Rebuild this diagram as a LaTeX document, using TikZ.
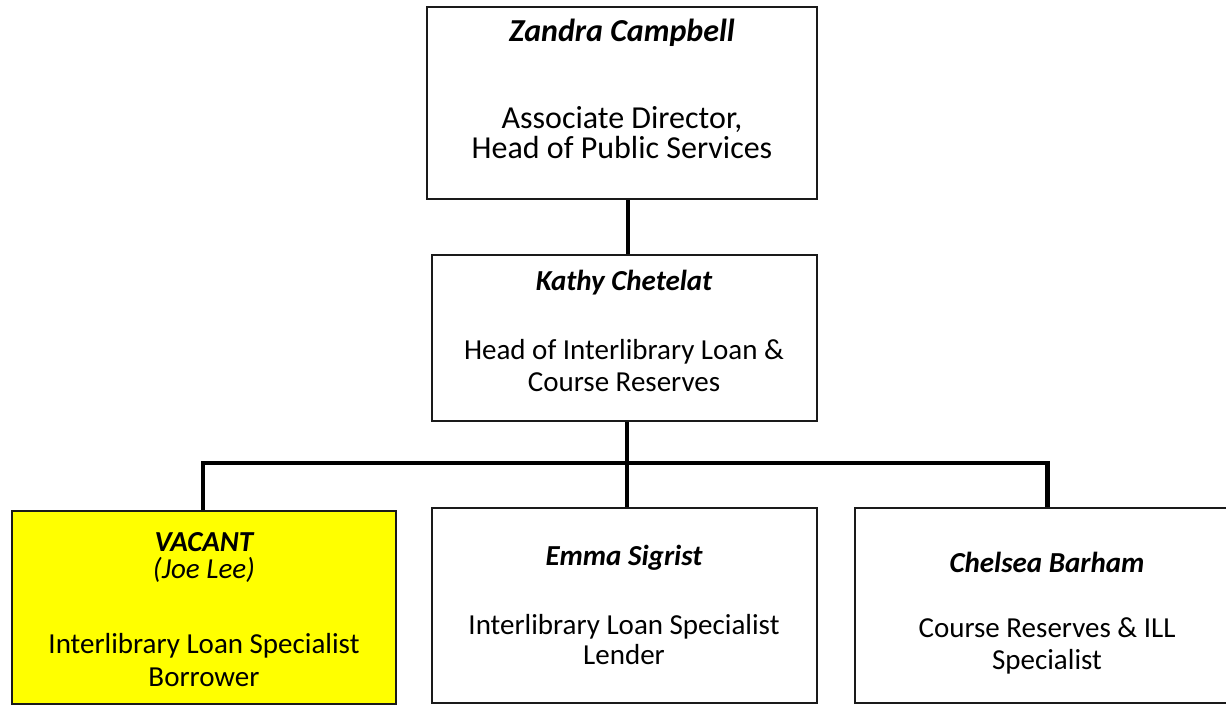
\documentclass[tikz,border=0pt]{standalone}
\usepackage{fontspec}
\setmainfont{Carlito}
\definecolor{vacant}{HTML}{FFFF00}
\definecolor{edge}{HTML}{1A1A1A}
\begin{document}
\begin{tikzpicture}[x=1pt,y=-1pt,
  box/.style={draw=edge,line width=1.6pt,rectangle,inner sep=0pt,minimum width=#1},
  box/.default=385pt,
  link/.style={line width=4.5pt,black},
  nm/.style={font=\fontsize{29}{31}\selectfont\bfseries\itshape,inner sep=0pt},
  bd/.style={font=\fontsize{29}{#1}\selectfont,align=center,inner sep=0pt},
  bd/.default=31pt]
\useasboundingbox (0,0) rectangle (1226,705);
\clip (0,0) rectangle (1226,705);
\fill[white] (0,0) rectangle (1226,705);
% boxes
\node[box=390pt,minimum height=192pt] (top) at (622,103) {};
\node[box,minimum height=166pt] (mid) at (624.5,338) {};
\node[box=384pt,minimum height=193pt,fill=vacant] (lft) at (204,607.5) {};
\node[box,minimum height=195pt] (cen) at (624.5,605.5) {};
\node[box,minimum height=195pt] (rgt) at (1047.5,605.5) {};
% connectors
\coordinate (bar) at (627,463);
\draw[link] ([xshift=6pt]top.south) -- ([xshift=3.5pt]mid.north);
\draw[link] ([xshift=2.5pt]mid.south) -- ([xshift=2.5pt]cen.north);
\draw[link] ([xshift=-1pt]lft.north) |- (bar) -| (rgt.north);
% texts
\node[nm,font=\fontsize{32}{34}\selectfont\bfseries\itshape] (topn) at (622,33) {Zandra Campbell};
\node[bd=30pt,font=\fontsize{32}{30}\selectfont] (topb) at (622,133) {Associate Director,\\Head of Public Services};
\node[nm] (midn) at (624,283) {Kathy Chetelat};
\node[bd=32pt] (midb) at (624,366) {Head of Interlibrary Loan \&\\Course Reserves};
\node[nm] (lftn) at (204,542) {VACANT};
\node[font=\fontsize{29}{31}\selectfont\itshape,inner sep=0pt] (lftp) at (204,570) {(Joe Lee)};
\node[bd=33pt] (lftb) at (204,660) {Interlibrary Loan Specialist\\Borrower};
\node[nm] (cenn) at (624,558) {Emma Sigrist};
\node[bd=30pt] (cenb) at (624,640) {Interlibrary Loan Specialist\\Lender};
\node[nm] (rgtn) at (1047,562) {Chelsea Barham};
\node[bd=32pt] (rgtb) at (1047,646) {Course Reserves \& ILL\\Specialist};
\end{tikzpicture}
\end{document}
